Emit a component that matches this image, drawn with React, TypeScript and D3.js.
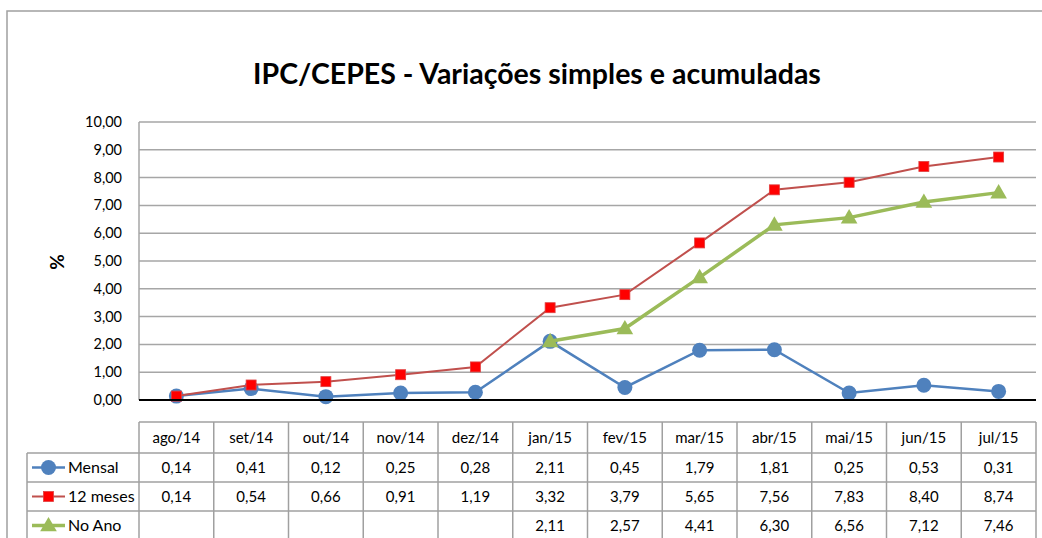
import React, { useEffect, useRef } from 'react';
import * as d3 from 'd3';

const months = ['ago/14', 'set/14', 'out/14', 'nov/14', 'dez/14', 'jan/15', 'fev/15', 'mar/15', 'abr/15', 'mai/15', 'jun/15', 'jul/15'];
const mensal: (number | null)[] = [0.14, 0.41, 0.12, 0.25, 0.28, 2.11, 0.45, 1.79, 1.81, 0.25, 0.53, 0.31];
const meses12: (number | null)[] = [0.14, 0.54, 0.66, 0.91, 1.19, 3.32, 3.79, 5.65, 7.56, 7.83, 8.40, 8.74];
const noAno: (number | null)[] = [null, null, null, null, null, 2.11, 2.57, 4.41, 6.30, 6.56, 7.12, 7.46];
const yTicks = [0, 1, 2, 3, 4, 5, 6, 7, 8, 9, 10];

const series = [
  { name: 'Mensal', values: mensal, color: '#4F81BD', width: 2.5, marker: 'circle' },
  { name: '12 meses', values: meses12, color: '#C0504D', width: 2, marker: 'square' },
  { name: 'No Ano', values: noAno, color: '#9BBB59', width: 3.5, marker: 'triangle' },
];

const fmt = (v: number) => v.toFixed(2).replace('.', ',');
const FONT = 'Lato, Carlito, Calibri, sans-serif';

export default function App() {
  const svgRef = useRef<SVGSVGElement>(null);

  useEffect(() => {
    const svg = d3.select(svgRef.current);
    svg.selectAll('*').remove();

    const left = 139, right = 1036, top = 122, bottom = 400;
    const x = d3.scaleBand().domain(months).range([left, right]);
    const y = d3.scaleLinear().domain([0, 10]).range([bottom, top]);
    const cx = (m: string) => (x(m) as number) + x.bandwidth() / 2;

    // moldura
    svg.append('rect').attr('x', 7).attr('y', 11).attr('width', 1050).attr('height', 540)
      .attr('fill', '#fff').attr('stroke', '#a0a0a0').attr('stroke-width', 1.5);

    svg.append('text').attr('x', 537).attr('y', 84).attr('text-anchor', 'middle')
      .style('font-family', FONT).style('font-weight', 'bold').style('font-size', '28.5px')
      .text('IPC/CEPES - Variações simples e acumuladas');

    // grade
    const g = svg.append('g');
    g.selectAll('.grid').data(yTicks.slice(1)).enter().append('line')
      .attr('x1', left).attr('x2', right).attr('y1', d => y(d)).attr('y2', d => y(d))
      .attr('stroke', '#a6a6a6').attr('stroke-width', 1.5);
    g.append('line').attr('x1', left).attr('x2', left).attr('y1', top).attr('y2', bottom)
      .attr('stroke', '#a6a6a6').attr('stroke-width', 1.5);

    g.selectAll('.ytick').data(yTicks).enter().append('text')
      .attr('x', 122).attr('y', d => y(d) + 5).attr('text-anchor', 'end')
      .style('font-family', FONT).style('font-size', '14.5px').text(d => fmt(d));

    svg.append('text').attr('transform', 'translate(64,262) rotate(-90)').attr('text-anchor', 'middle')
      .style('font-family', FONT).style('font-weight', 'bold').style('font-size', '19px').text('%');

    const drawMarker = (sel: any, type: string, color: string, px: number, py: number) => {
      if (type === 'circle') {
        sel.append('circle').attr('cx', px).attr('cy', py).attr('r', 7.5).attr('fill', color);
      } else if (type === 'square') {
        sel.append('rect').attr('x', px - 5).attr('y', py - 5).attr('width', 10).attr('height', 10)
          .attr('fill', '#FF0000').attr('stroke', '#E04040').attr('stroke-width', 0.8);
      } else {
        sel.append('path').attr('d', d3.symbol().type(d3.symbolTriangle).size(120)()!)
          .attr('transform', `translate(${px},${py + 1})`).attr('fill', color);
      }
    };

    series.forEach(s => {
      const pts = months.map((m, i) => ({ m, v: s.values[i] }));
      const line = d3.line<{ m: string; v: number | null }>()
        .defined(d => d.v !== null).x(d => cx(d.m)).y(d => y(d.v as number));
      g.append('path').datum(pts).attr('d', line).attr('fill', 'none')
        .attr('stroke', s.color).attr('stroke-width', s.width);
      pts.filter(p => p.v !== null).forEach(p => drawMarker(g, s.marker, s.color, cx(p.m), y(p.v as number)));
    });

    // eixo zero
    g.append('line').attr('x1', left).attr('x2', right).attr('y1', bottom).attr('y2', bottom)
      .attr('stroke', '#000').attr('stroke-width', 2);

    // tabela de dados
    const rowTops = [422, 453, 482, 511, 540];
    const t = svg.append('g').style('font-family', FONT).style('font-size', '15px');
    const border = '#a0a0a0';
    rowTops.forEach((ry, i) => {
      t.append('line').attr('x1', i === 0 ? left : 27).attr('x2', right).attr('y1', ry).attr('y2', ry)
        .attr('stroke', border).attr('stroke-width', 1.5);
    });
    months.forEach(m => {
      t.append('line').attr('x1', x(m) as number).attr('x2', x(m) as number).attr('y1', rowTops[0]).attr('y2', 540)
        .attr('stroke', border).attr('stroke-width', 1.5);
    });
    t.append('line').attr('x1', right).attr('x2', right).attr('y1', rowTops[0]).attr('y2', 540)
      .attr('stroke', border).attr('stroke-width', 1.5);
    t.append('line').attr('x1', 27).attr('x2', 27).attr('y1', rowTops[1]).attr('y2', 540)
      .attr('stroke', border).attr('stroke-width', 1.5);

    months.forEach(m => {
      t.append('text').attr('x', cx(m)).attr('y', (rowTops[0] + rowTops[1]) / 2 + 5)
        .attr('text-anchor', 'middle').text(m);
    });

    series.forEach((s, r) => {
      const ry = (rowTops[r + 1] + rowTops[r + 2]) / 2;
      t.append('line').attr('x1', 32).attr('x2', 65).attr('y1', ry).attr('y2', ry)
        .attr('stroke', s.color).attr('stroke-width', s.width);
      drawMarker(t, s.marker, s.color, 48.5, ry);
      t.append('text').attr('x', 68).attr('y', ry + 5).style('font-size', '16px').text(s.name);
      months.forEach((m, i) => {
        const v = s.values[i];
        if (v === null) return;
        t.append('text').attr('x', cx(m)).attr('y', ry + 5).attr('text-anchor', 'middle').text(fmt(v));
      });
    });
  }, []);

  return (
    <svg ref={svgRef} width={1042} height={538}
      style={{ position: 'absolute', left: 0, top: 0, background: '#fff' }} />
  );
}
